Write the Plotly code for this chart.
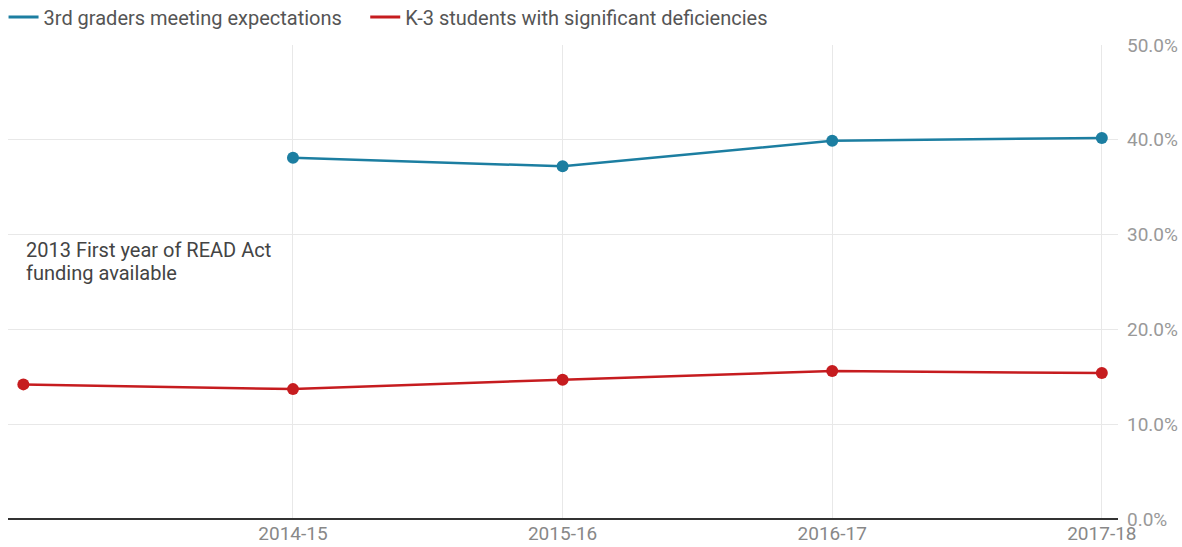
import plotly.graph_objects as go

# Reading outcomes by school year
years = ["2013-14", "2014-15", "2015-16", "2016-17", "2017-18"]
tick_labels = ["", "2014-15", "2015-16", "2016-17", "2017-18"]
meeting_expectations = [None, 0.381, 0.372, 0.399, 0.402]
significant_deficiencies = [0.142, 0.137, 0.147, 0.156, 0.154]
series_names = ["3rd graders meeting expectations",
                "K-3 students with significant deficiencies"]
note_lines = ["2013 First year of READ Act", "funding available"]

BLUE = "#1c7ea1"
RED = "#c61c1f"
FONT = "Roboto"

x_idx = list(range(len(years)))

fig = go.Figure()
for name, values, color, leg in zip(series_names,
                                    [meeting_expectations, significant_deficiencies],
                                    [BLUE, RED], ["legend", "legend2"]):
    # data line with markers
    fig.add_trace(go.Scatter(
        x=x_idx, y=values, mode="lines+markers", name=name,
        legendgroup=name, showlegend=False,
        line=dict(color=color, width=2.5), marker=dict(color=color, size=12),
        connectgaps=False, customdata=years,
        hovertemplate="%{customdata}: %{y:.1%}<extra></extra>",
    ))
    # legend entry shown as a plain line swatch
    fig.add_trace(go.Scatter(
        x=[None], y=[None], mode="lines", name=name,
        legendgroup=name, showlegend=True, legend=leg,
        line=dict(color=color, width=3), hoverinfo="skip",
    ))

# two-line note placed in the upper-left of the plot
for i, line in enumerate(note_lines):
    fig.add_annotation(
        x=0.014, y=0.567 - i * 0.047, xref="paper", yref="paper",
        xanchor="left", yanchor="middle",
        text=line, showarrow=False, align="left",
        font=dict(family=FONT, size=20, color="#444444"),
    )

legend_style = dict(orientation="h", xref="container", xanchor="left",
                    yref="container", y=0.969, yanchor="middle",
                    font=dict(family=FONT, size=20, color="#555555"),
                    itemwidth=30, bgcolor="rgba(0,0,0,0)")

fig.update_layout(
    width=1182, height=547,
    margin=dict(l=8, r=64, t=45, b=28),
    paper_bgcolor="white", plot_bgcolor="white",
    font=dict(family=FONT, size=20, color="#888888"),
    showlegend=True,
    legend=dict(x=0.003, **legend_style),
    legend2=dict(x=0.309, **legend_style),
    hovermode="closest",
)
fig.update_xaxes(
    range=[-0.057, 4.06], automargin=False,
    tickmode="array", tickvals=x_idx[1:], ticktext=tick_labels[1:],
    showgrid=True, gridcolor="#e8e8e8", gridwidth=1,
    zeroline=False, showline=False, ticks="",
    ticklabelstandoff=1,
    tickfont=dict(family=FONT, size=19, color="#888888"),
)
fig.update_yaxes(
    range=[0, 0.5], side="right", automargin=False,
    tickmode="array", tickvals=[0, 0.1, 0.2, 0.3, 0.4, 0.5],
    tickformat=".1%",
    showgrid=True, gridcolor="#e8e8e8", gridwidth=1,
    zeroline=True, zerolinecolor="#333333", zerolinewidth=2,
    ticks="", ticklabelstandoff=8,
    tickfont=dict(family=FONT, size=19, color="#999999"),
)

fig.write_html("out.html")
